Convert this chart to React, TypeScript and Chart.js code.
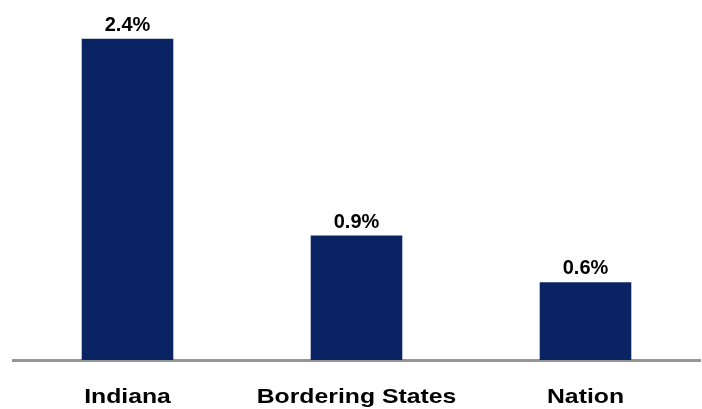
import React, { useEffect, useRef } from "react";
import { Chart, registerables } from "chart.js";

Chart.register(...registerables);

const categories = ["Indiana", "Bordering States", "Nation"];
const values = [2.4, 0.93, 0.58];
const valueLabels = ["2.4%", "0.9%", "0.6%"];

const FONT = "Arial, 'Liberation Sans', sans-serif";

const labelPlugin = {
  id: "labels",
  afterDatasetsDraw(chart: any) {
    const ctx = chart.ctx;
    const meta = chart.getDatasetMeta(0);
    ctx.save();
    ctx.fillStyle = "#000000";
    ctx.textAlign = "center";
    ctx.textBaseline = "alphabetic";
    ctx.font = `bold 20px ${FONT}`;
    meta.data.forEach((bar: any, i: number) => {
      ctx.fillText(valueLabels[i], bar.x, bar.y - 8);
    });
    ctx.font = `bold 21px ${FONT}`;
    meta.data.forEach((bar: any, i: number) => {
      ctx.save();
      ctx.translate(bar.x, 403);
      ctx.scale(1.18, 1);
      ctx.fillText(categories[i], 0, 0);
      ctx.restore();
    });
    ctx.restore();
  },
};

export default function App() {
  const ref = useRef<HTMLCanvasElement>(null);
  useEffect(() => {
    if (!ref.current) return;
    const chart = new Chart(ref.current, {
      type: "bar",
      data: {
        labels: categories,
        datasets: [
          {
            data: values,
            backgroundColor: "#0A2463",
            barPercentage: 0.4,
            categoryPercentage: 1,
          },
        ],
      },
      options: {
        responsive: false,
        animation: false,
        layout: { padding: { top: 12, left: 13, right: 2, bottom: 0 } },
        plugins: { legend: { display: false }, tooltip: { enabled: false } },
        scales: {
          x: {
            grid: { display: false, drawTicks: false },
            border: { display: true, color: "#969696", width: 3 },
            ticks: { display: false },
            afterFit: (s: any) => {
              s.height = 49;
            },
          },
          y: {
            display: false,
            min: 0,
            max: 2.6,
          },
        },
      },
      plugins: [labelPlugin],
    });
    return () => chart.destroy();
  }, []);
  return (
    <div style={{ position: "fixed", left: 0, top: 0, width: 702, height: 409, background: "#fff" }}>
      <canvas ref={ref} width={702} height={409} style={{ display: "block" }} />
    </div>
  );
}
